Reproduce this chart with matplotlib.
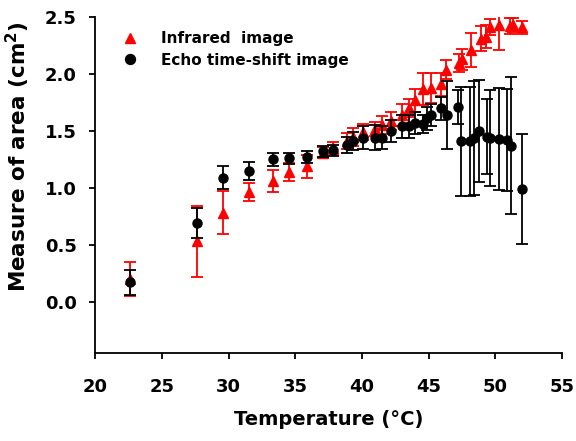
import matplotlib.pyplot as plt

# Infrared image (red triangles)
ir_temp = [22.6, 27.65, 29.6, 31.5, 33.3, 34.5, 35.9, 37.1, 37.8, 38.9, 39.3, 40.1, 41.0, 41.5,
           42.2, 43.0, 43.5, 44.0, 44.6, 45.2, 45.9, 46.3, 47.3, 47.5, 48.2, 48.9, 49.3, 49.6,
           50.3, 51.1, 51.3, 52.0]
ir_area = [0.20, 0.53, 0.78, 0.96, 1.06, 1.14, 1.19, 1.31, 1.35, 1.41, 1.45, 1.49, 1.52, 1.55,
           1.59, 1.64, 1.70, 1.77, 1.87, 1.88, 1.91, 2.04, 2.10, 2.13, 2.21, 2.31, 2.33, 2.41,
           2.43, 2.42, 2.43, 2.41]
ir_err = [0.15, 0.31, 0.19, 0.08, 0.10, 0.08, 0.10, 0.05, 0.05, 0.07, 0.08, 0.07, 0.06, 0.08,
          0.08, 0.10, 0.08, 0.10, 0.14, 0.13, 0.10, 0.08, 0.08, 0.09, 0.15, 0.11, 0.10, 0.07,
          0.22, 0.07, 0.06, 0.06]

# Echo time-shift image (black circles)
echo_temp = [22.6, 27.65, 29.6, 31.5, 33.3, 34.5, 35.9, 37.1, 37.8, 38.9, 39.3, 40.1, 41.0, 41.5,
             42.2, 43.0, 43.5, 44.0, 44.6, 44.9, 45.2, 45.9, 46.4, 47.2, 47.4, 48.1, 48.4, 48.8,
             49.4, 49.6, 50.3, 50.85, 51.2, 52.0]
echo_area = [0.17, 0.69, 1.09, 1.15, 1.25, 1.26, 1.27, 1.32, 1.33, 1.38, 1.41, 1.44, 1.44, 1.44,
             1.50, 1.54, 1.54, 1.57, 1.56, 1.61, 1.64, 1.70, 1.64, 1.71, 1.41, 1.41, 1.44, 1.50,
             1.45, 1.44, 1.43, 1.42, 1.37, 0.99]
echo_err = [0.11, 0.13, 0.10, 0.08, 0.06, 0.05, 0.05, 0.05, 0.05, 0.07, 0.08, 0.10, 0.11, 0.10,
            0.10, 0.10, 0.10, 0.10, 0.08, 0.10, 0.10, 0.10, 0.30, 0.15, 0.48, 0.48, 0.50, 0.45,
            0.33, 0.42, 0.45, 0.45, 0.60, 0.48]

plt.rcParams['font.family'] = ['DejaVu Sans']
plt.rcParams['font.weight'] = 'bold'
plt.rcParams['mathtext.default'] = 'bf'

fig = plt.figure(figsize=(5.76, 4.41), dpi=100)
ax = fig.add_axes([0.165, 0.2, 0.811, 0.761])

ir = ax.errorbar(ir_temp, ir_area, yerr=ir_err, fmt='^', color='#ff0000', ecolor='#ff0000',
                 ms=7, elinewidth=1.3, capsize=4, capthick=1.3, zorder=2)
echo = ax.errorbar(echo_temp, echo_area, yerr=echo_err, fmt='o', color='black', ecolor='black',
                   ms=6.5, elinewidth=1.3, capsize=4, capthick=1.3, zorder=3)

ax.set_xlim(20, 55)
ax.set_ylim(-0.45, 2.5)
ax.set_xticks(range(20, 56, 5))
ax.set_yticks([0.0, 0.5, 1.0, 1.5, 2.0, 2.5])
ax.set_yticklabels(['0.0', '0.5', '1.0', '1.5', '2.0', '2.5'])

for s in ['top', 'right']:
    ax.spines[s].set_visible(False)
for s in ['left', 'bottom']:
    ax.spines[s].set_linewidth(1.3)

ax.tick_params(axis='x', direction='out', length=4, width=1.3, pad=14, labelsize=13)
ax.tick_params(axis='y', direction='out', length=4, width=1.3, pad=9, labelsize=13)

ax.set_xlabel('Temperature (\u00b0C)', fontsize=14, fontweight='bold', labelpad=10)
ax.set_ylabel('Measure of area (cm$^2$)', fontsize=15.5, fontweight='bold')
ax.yaxis.set_label_coords(-0.135, 0.585)

ax.legend([ir[0], echo[0]], ['Infrared  image', 'Echo time-shift image'],
          loc='upper left', bbox_to_anchor=(0.02, 1.0), frameon=False, fontsize=11,
          handlelength=1.5, handletextpad=1.3, borderaxespad=0.5, labelspacing=0.45,
          markerscale=1.1)

fig.savefig('out.png', dpi=100)
